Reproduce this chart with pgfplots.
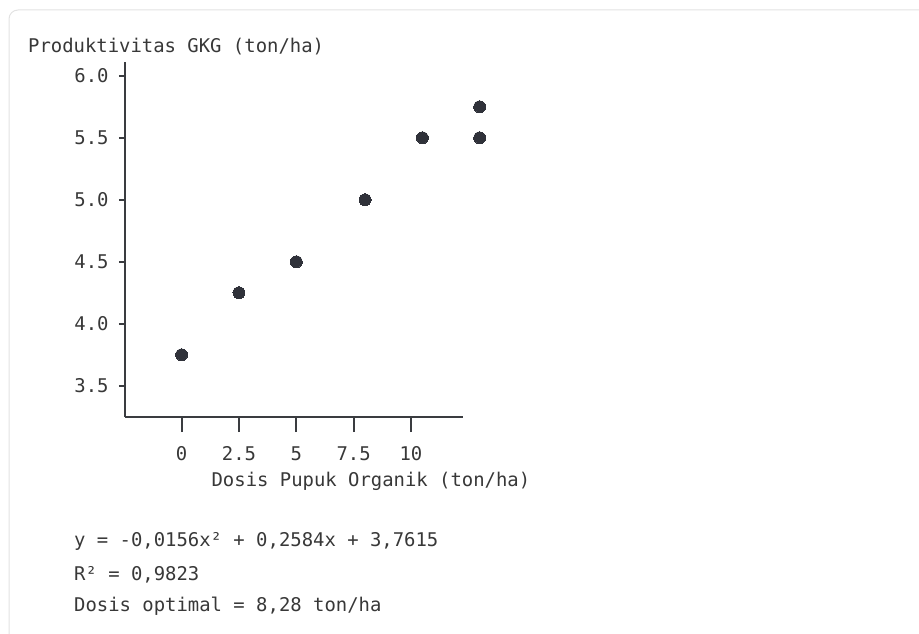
\documentclass[border=0pt]{standalone}
\usepackage{pgfplots}
\pgfplotsset{compat=1.18}
\usepackage{fontspec}
\setmainfont{DejaVu Sans Mono}
\definecolor{txt}{HTML}{383838}
\definecolor{dot}{HTML}{30323A}
\definecolor{ax}{HTML}{3A3C40}
\definecolor{frame}{HTML}{E2E2E2}
\newcommand{\F}{\fontsize{18.9}{22}\selectfont}
\begin{document}
\begin{tikzpicture}[x=1pt,y=1pt]
\path[use as bounding box] (0,0) rectangle (919,633);
\draw[frame, line width=1pt, rounded corners=9pt] (9,-30) -- (9,623) -- (960,623);
\begin{axis}[
  at={(125pt,216pt)}, anchor=south west,
  x=22.93pt, y=124pt,
  xmin=-2.47, xmax=12.25, ymin=3.248, ymax=6.11,
  clip=false,
  axis lines=left,
  axis line style={-, ax, line width=1.8pt},
  tick align=outside,
  xtick={0,2.5,5,7.5,10},
  xticklabels={0,2.5,5,7.5,10},
  ytick={3.5,4.0,4.5,5.0,5.5,6.0},
  yticklabels={3.5,4.0,4.5,5.0,5.5,6.0},
  xtick style={ax, line width=1.8pt, /pgfplots/major tick length=15pt},
  ytick style={ax, line width=1.8pt, /pgfplots/major tick length=6pt},
  xticklabel style={font=\F, text=txt, inner sep=0pt, anchor=base, yshift=-39pt},
  yticklabel style={font=\F, text=txt, inner sep=0pt, anchor=east, xshift=-12pt},
  xlabel={Dosis Pupuk Organik (ton/ha)},
  ylabel={Produktivitas GKG (ton/ha)},
  every axis x label/.style={at={(axis cs:8.255,3.248)}, anchor=base, yshift=-69pt, font=\F, text=txt, inner sep=0pt},
  every axis y label/.style={at={(axis cs:-2.47,6.11)}, anchor=base west, xshift=-97pt, yshift=10pt, font=\F, text=txt, inner sep=0pt},
]
\addplot[only marks, mark=*, mark size=6pt, mark options={fill=dot, draw=dot, line width=0pt}]
coordinates {(0,3.75) (2.5,4.25) (5,4.5) (8,5.0) (10.5,5.5) (13,5.75) (13,5.5)};
\end{axis}
\node[anchor=base west, inner sep=0pt, font=\F, text=txt] at (74,86.3) {y = -0,0156x² + 0,2584x + 3,7615};
\node[anchor=base west, inner sep=0pt, font=\F, text=txt] at (74,53) {R² = 0,9823};
\node[anchor=base west, inner sep=0pt, font=\F, text=txt] at (74,21.3) {Dosis optimal = 8,28 ton/ha};
\end{tikzpicture}
\end{document}
